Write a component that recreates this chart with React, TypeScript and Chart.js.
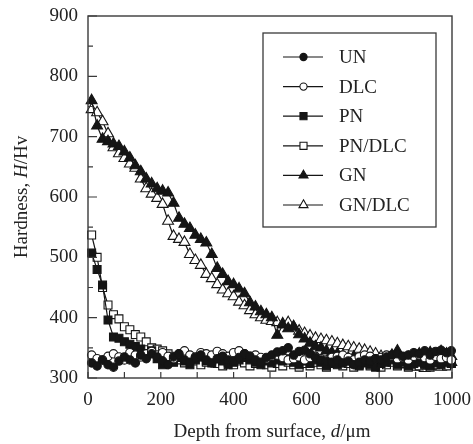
import React, { useEffect, useRef } from 'react';
import { Chart, registerables } from 'chart.js';

Chart.register(...registerables);

// ---- data ----
const DEPTH = [
  10, 25, 40, 55, 70, 85, 100, 115, 130, 145,
  160, 175, 190, 205, 220, 235, 250, 265, 280, 295,
  310, 325, 340, 355, 370, 385, 400, 415, 430, 445,
  460, 475, 490, 505, 520, 535, 550, 565, 580, 595,
  610, 625, 640, 655, 670, 685, 700, 715, 730, 745,
  760, 775, 790, 805, 820, 835, 850, 865, 880, 895,
  910, 925, 940, 955, 970, 985, 998,
];

const UN = [
  325, 320, 330, 322, 318, 328, 335, 330, 325, 338,
  332, 340, 335, 328, 322, 335, 340, 330, 326, 334,
  338, 330, 325, 332, 336, 330, 328, 334, 340, 336,
  330, 326, 334, 338, 343, 345, 350, 338, 344, 346,
  340, 334, 330, 328, 326, 330, 325, 328, 322, 326,
  330, 328, 332, 330, 335, 338, 340, 336, 338, 342,
  340, 345, 338, 344, 346, 342, 345,
];

const DLC = [
  338, 332, 330, 336, 340, 335, 330, 342, 338, 335,
  340, 344, 338, 342, 336, 332, 340, 345, 338, 335,
  342, 340, 338, 344, 340, 336, 342, 345, 340, 336,
  338, 334, 332, 336, 338, 334, 330, 332, 335, 330,
  334, 336, 332, 330, 334, 336, 338, 334, 330, 335,
  338, 336, 332, 334, 338, 336, 332, 334, 330, 336,
  338, 334, 330, 336, 332, 334, 330,
];

const PN = [
  507, 480, 454, 396, 368, 366, 360, 356, 352, 348,
  340, 345, 332, 322, 330, 326, 334, 328, 322, 330,
  335, 328, 325, 332, 328, 322, 326, 330, 334, 330,
  326, 322, 328, 325, 330, 328, 332, 326, 322, 328,
  324, 330, 326, 320, 325, 322, 326, 330, 324, 320,
  325, 322, 318, 324, 326, 330, 322, 326, 320, 324,
  326, 322, 320, 325, 322, 326, 324,
];

const PN_DLC = [
  537, 500, 450, 421, 405, 398, 385, 380, 372, 368,
  360, 350, 348, 345, 340, 336, 330, 325, 330, 328,
  322, 326, 330, 324, 320, 326, 322, 328, 325, 320,
  324, 328, 322, 318, 324, 320, 326, 322, 318, 324,
  320, 326, 322, 318, 324, 326, 320, 324, 318, 322,
  326, 320, 324, 318, 322, 326, 320, 324, 318, 322,
  320, 324, 318, 322, 326, 320, 324,
];

const GN = [
  760, 718, 696, 692, 688, 684, 675, 665, 652, 642,
  630, 622, 614, 610, 607, 590, 565, 555, 548, 537,
  530, 524, 505, 482, 472, 460, 455, 448, 440, 425,
  418, 410, 405, 400, 371, 388, 382, 385, 372, 365,
  358, 352, 350, 345, 342, 340, 336, 333, 335, 330,
  328, 326, 322, 330, 326, 338, 345, 330, 334, 338,
  340, 335, 342, 338, 344, 340, 336,
];

const GN_DLC = [
  745, 740, 725, 705, 682, 672, 664, 655, 648, 630,
  614, 605, 598, 588, 560, 535, 530, 525, 505, 495,
  487, 472, 465, 455, 446, 440, 435, 426, 420, 412,
  405, 400, 396, 394, 392, 390, 392, 385, 378, 374,
  370, 366, 364, 362, 360, 357, 354, 352, 350, 348,
  346, 343, 340, 336, 332, 330, 326, 322, 325, 318,
  322, 316, 320, 324, 318, 322, 326,
];

const SERIES_NAMES = ['UN', 'DLC', 'PN', 'PN/DLC', 'GN', 'GN/DLC'];
const X_TICKS = [0, 200, 400, 600, 800, 1000];
const Y_TICKS = [300, 400, 500, 600, 700, 800, 900];
const X_TITLE: [string, boolean][] = [['Depth from surface, ', false], ['d', true], ['/μm', false]];
const Y_TITLE: [string, boolean][] = [['Hardness, ', false], ['H', true], ['/Hv', false]];

// ---- style ----
const FONT = "'Liberation Serif', 'Times New Roman', serif";
const INK = '#151515';
const FRAME = '#3a3a3a';
const TEXT = '#222222';
const FS = 19;

type Marker = { style: 'circle' | 'rect' | 'triangle'; filled: boolean; r: number; lr: number };
const MARKERS: Marker[] = [
  { style: 'circle', filled: true, r: 4.2, lr: 3.6 },
  { style: 'circle', filled: false, r: 4.2, lr: 3.6 },
  { style: 'rect', filled: true, r: 5.6, lr: 5 },
  { style: 'rect', filled: false, r: 5.6, lr: 5 },
  { style: 'triangle', filled: true, r: 6.3, lr: 5.2 },
  { style: 'triangle', filled: false, r: 6.3, lr: 5.2 },
];

function richText(ctx: CanvasRenderingContext2D, parts: [string, boolean][], cx: number, cy: number) {
  const widths = parts.map(([t, it]) => {
    ctx.font = `${it ? 'italic ' : ''}${FS}px ${FONT}`;
    return ctx.measureText(t).width;
  });
  const total = widths.reduce((a, b) => a + b, 0);
  let x = cx - total / 2;
  ctx.textAlign = 'left';
  ctx.textBaseline = 'middle';
  parts.forEach(([t, it], i) => {
    ctx.font = `${it ? 'italic ' : ''}${FS}px ${FONT}`;
    ctx.fillText(t, x, cy);
    x += widths[i];
  });
}

function drawMarker(ctx: CanvasRenderingContext2D, m: Marker, x: number, y: number, r: number) {
  ctx.beginPath();
  if (m.style === 'circle') {
    ctx.arc(x, y, r, 0, Math.PI * 2);
  } else if (m.style === 'rect') {
    const s = r * Math.SQRT1_2;
    ctx.rect(x - s, y - s, 2 * s, 2 * s);
  } else {
    const h = r * 1.5;
    const w = r * Math.sqrt(3) / 2;
    ctx.moveTo(x, y - r);
    ctx.lineTo(x + w, y - r + h);
    ctx.lineTo(x - w, y - r + h);
    ctx.closePath();
  }
  ctx.fillStyle = m.filled ? INK : '#ffffff';
  ctx.fill();
  ctx.strokeStyle = INK;
  ctx.lineWidth = 1.1;
  ctx.stroke();
}

const decorPlugin = {
  id: 'decor',
  afterDraw(chart: any) {
    const { ctx, chartArea: a, scales } = chart;
    const xs = scales.x;
    const ys = scales.y;
    ctx.save();
    // frame
    ctx.strokeStyle = FRAME;
    ctx.lineWidth = 1.4;
    ctx.strokeRect(a.left, a.top, a.right - a.left, a.bottom - a.top);
    // inward ticks
    ctx.lineWidth = 1.2;
    ctx.beginPath();
    for (let v = 300; v <= 900; v += 50) {
      const y = ys.getPixelForValue(v);
      const len = v % 100 === 0 ? 9 : 5;
      ctx.moveTo(a.left, y);
      ctx.lineTo(a.left + len, y);
    }
    for (let v = 0; v <= 1000; v += 100) {
      const x = xs.getPixelForValue(v);
      ctx.moveTo(x, a.bottom);
      ctx.lineTo(x, a.bottom - 6);
    }
    ctx.stroke();

    // axis titles
    ctx.fillStyle = TEXT;
    richText(ctx, X_TITLE, (a.left + a.right) / 2 + 2, 432);
    ctx.save();
    ctx.translate(22, (a.top + a.bottom) / 2);
    ctx.rotate(-Math.PI / 2);
    richText(ctx, Y_TITLE, 0, 0);
    ctx.restore();

    // legend
    const lx0 = 263, ly0 = 33, lx1 = 436, ly1 = 227;
    ctx.fillStyle = '#ffffff';
    ctx.fillRect(lx0, ly0, lx1 - lx0, ly1 - ly0);
    ctx.strokeStyle = FRAME;
    ctx.lineWidth = 1.3;
    ctx.strokeRect(lx0, ly0, lx1 - lx0, ly1 - ly0);
    SERIES_NAMES.forEach((name, i) => {
      const y = 57 + i * 29.6;
      ctx.strokeStyle = INK;
      ctx.lineWidth = 1.2;
      ctx.beginPath();
      ctx.moveTo(283, y);
      ctx.lineTo(323, y);
      ctx.stroke();
      drawMarker(ctx, MARKERS[i], 303.5, y, MARKERS[i].lr);
      ctx.fillStyle = TEXT;
      ctx.font = `${FS}px ${FONT}`;
      ctx.textAlign = 'left';
      ctx.textBaseline = 'middle';
      ctx.fillText(name, 339, y + 1);
    });
    ctx.restore();
  },
};

export default function App() {
  const ref = useRef<HTMLCanvasElement>(null);
  useEffect(() => {
    const canvas = ref.current;
    if (!canvas) return;
    const seriesData = [UN, DLC, PN, PN_DLC, GN, GN_DLC];
    const datasets = SERIES_NAMES.map((name, i) => ({
      label: name,
      data: DEPTH.map((d, j) => ({ x: d, y: seriesData[i][j] })),
      showLine: true,
      borderColor: INK,
      borderWidth: 1.2,
      pointStyle: MARKERS[i].style,
      pointRadius: MARKERS[i].r,
      pointBackgroundColor: MARKERS[i].filled ? INK : '#ffffff',
      pointBorderColor: INK,
      pointBorderWidth: 1.1,
      tension: 0,
      clip: false as any,
    }));
    const chart = new Chart(canvas, {
      type: 'scatter',
      data: { datasets },
      options: {
        animation: false,
        responsive: false,
        devicePixelRatio: 1,
        layout: { padding: { top: 16, right: 21, left: 0, bottom: 0 } },
        plugins: { legend: { display: false }, tooltip: { enabled: false } },
        scales: {
          x: {
            type: 'linear',
            min: 0,
            max: 1000,
            grid: { display: false, drawTicks: false },
            border: { display: false },
            afterBuildTicks: (s: any) => { s.ticks = X_TICKS.map((v) => ({ value: v })); },
            afterFit: (s: any) => { s.height = 66; s.paddingLeft = 0; s.paddingRight = 0; },
            ticks: {
              padding: 11,
              color: TEXT,
              font: { family: FONT, size: FS },
              maxRotation: 0,
              autoSkip: false,
              callback: (v: any) => String(v),
            },
          },
          y: {
            type: 'linear',
            min: 300,
            max: 900,
            grid: { display: false, drawTicks: false },
            border: { display: false },
            afterBuildTicks: (s: any) => { s.ticks = Y_TICKS.map((v) => ({ value: v })); },
            afterFit: (s: any) => { s.width = 88; s.paddingTop = 0; s.paddingBottom = 0; },
            ticks: {
              padding: 10,
              color: TEXT,
              font: { family: FONT, size: FS },
              autoSkip: false,
              callback: (v: any) => String(v),
            },
          },
        },
      },
      plugins: [decorPlugin],
    });
    return () => chart.destroy();
  }, []);
  return (
    <div style={{ position: 'fixed', left: 0, top: 0, width: 473, height: 444, background: '#ffffff' }}>
      <canvas ref={ref} width={473} height={444} style={{ display: 'block' }} />
    </div>
  );
}
